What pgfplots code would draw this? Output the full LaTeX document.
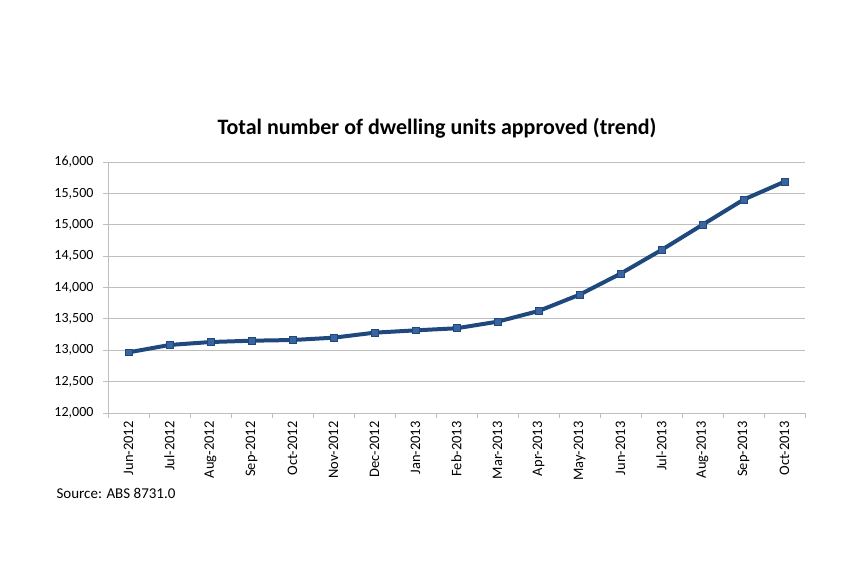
\documentclass[border=0pt]{standalone}
\usepackage{fontspec}
\setmainfont{Carlito}
\usepackage{pgfplots}
\pgfplotsset{compat=1.18}

\definecolor{lineblue}{RGB}{31,73,125}
\definecolor{markblue}{RGB}{56,100,160}
\definecolor{gridgray}{RGB}{190,190,190}

\pgfplotstableread{
x value
0 12966
1 13084
2 13131
3 13152
4 13163
5 13200
6 13280
7 13317
8 13350
9 13455
10 13625
11 13885
12 14220
13 14598
14 15000
15 15400
16 15686
}\dwellings

\begin{document}
\begin{tikzpicture}
\path[use as bounding box] (0,0) rectangle (862pt,575pt);
\begin{axis}[
    at={(108pt,162pt)}, anchor=south west,
    scale only axis,
    width=697pt, height=251pt,
    xmin=-0.5, xmax=16.5,
    ymin=12000, ymax=16000,
    axis x line*=bottom, axis y line*=left,
    axis line style={gridgray, line width=0.8pt, -},
    xtick={0,...,16},
    xticklabels={Jun-2012,Jul-2012,Aug-2012,Sep-2012,Oct-2012,Nov-2012,Dec-2012,Jan-2013,Feb-2013,Mar-2013,Apr-2013,May-2013,Jun-2013,Jul-2013,Aug-2013,Sep-2013,Oct-2013},
    x tick label style={rotate=90, anchor=east, font=\fontsize{14.5}{16}\selectfont},
    minor xtick={-0.5,0.5,...,16.5},
    ytick={12000,12500,...,16000},
    y tick label style={font=\fontsize{14}{16}\selectfont, xshift=-6pt},
    yticklabel style={/pgf/number format/.cd, fixed, 1000 sep={,}, assume math mode=true},
    scaled y ticks=false,
    tick align=outside,
    x tick style={draw=none},
    minor x tick style={draw=gridgray, line width=0.8pt},
    y tick style={draw=gridgray, line width=0.8pt},
    major tick length=5pt, minor tick length=5pt,
    ymajorgrids,
    major grid style={gridgray, line width=0.8pt},
    clip=false,
]
\addplot[lineblue, line width=4pt, mark=square*, mark size=3.4pt,
    mark options={fill=markblue, draw=lineblue, line width=0.8pt}]
    table[x=x, y=value] {\dwellings};
\end{axis}
\node[font=\bfseries\fontsize{22}{26}\selectfont] at (437pt,447pt) {Total number of dwelling units approved (trend)};
\node[anchor=west, font=\fontsize{15}{17}\selectfont] at (53pt,82pt) {Source: ABS 8731.0};
\end{tikzpicture}
\end{document}
